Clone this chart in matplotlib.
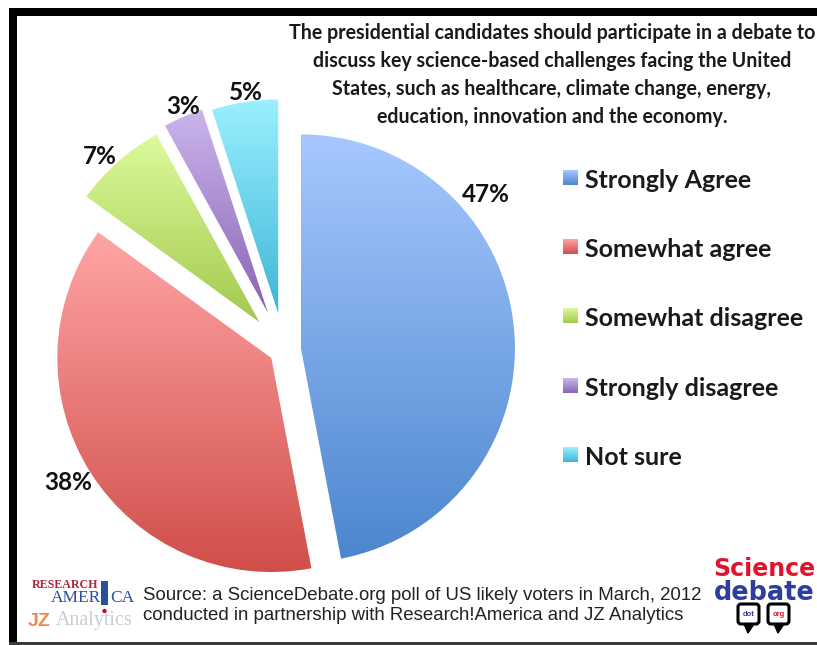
"""Poll pie chart with top-to-bottom gradient slices, legend and source footer."""
import numpy as np
import matplotlib
matplotlib.use("Agg")
import matplotlib.pyplot as plt
from matplotlib.colors import LinearSegmentedColormap
from matplotlib.patches import Circle, FancyBboxPatch, Polygon, Rectangle

W, H = 817, 645

categories = ["Strongly Agree", "Somewhat agree", "Somewhat disagree", "Strongly disagree", "Not sure"]
shares = [47, 38, 7, 3, 5]
pct_labels = ["47%", "38%", "7%", "3%", "5%"]
title_lines = [
    "The presidential candidates should participate in a debate to",
    "discuss key science-based challenges facing the United",
    "States, such as healthcare, climate change, energy,",
    "education, innovation and the economy.",
]
source_lines = [
    "Source: a ScienceDebate.org poll of US likely voters in March, 2012",
    "conducted in partnership with Research!America and JZ Analytics",
]

# slice styling: gradient top and bottom colour, explode distance in pixels
tops = ["#a6c8ff", "#ffa5a5", "#dcfa9c", "#cbb5ec", "#9cf0ff"]
bottoms = ["#4c86ce", "#d04e4a", "#a3c94e", "#8864b3", "#3db6d8"]
explode_px = [17, 15, 37, 40, 37]
label_xy = [(486, 195), (68, 483), (100, 156), (183, 107), (246, 93)]
legend_y = [178, 247, 316, 386, 455]

PIE_CENTER = (284, H - 350)
PIE_RADIUS = 214


def gradient_fill(ax, artist, top, bottom, extent):
    cmap = LinearSegmentedColormap.from_list("fill", [top, bottom])
    im = ax.imshow(np.linspace(0, 1, 256)[:, None], cmap=cmap, extent=extent,
                   origin="upper", aspect="auto", zorder=2, interpolation="bilinear")
    im.set_clip_path(artist)


plt.rcParams["font.family"] = ["Lato", "DejaVu Sans"]
fig = plt.figure(figsize=(W / 100, H / 100), dpi=100)
ax = fig.add_axes([0, 0, 1, 1])

# explode is taken in data units here, and the axes run in pixels
wedges, _ = ax.pie(
    shares,
    explode=explode_px,
    startangle=90,
    counterclock=False,
    center=PIE_CENTER,
    radius=PIE_RADIUS,
)

for wedge, top, bottom in zip(wedges, tops, bottoms):
    wedge.set_facecolor("none")
    wedge.set_edgecolor("none")
    bb = wedge.get_path().get_extents(wedge.get_patch_transform())
    gradient_fill(ax, wedge, top, bottom, (bb.x0, bb.x1, bb.y0, bb.y1))

for text, (x, y) in zip(pct_labels, label_xy):
    ax.text(x, H - y, text, fontsize=17.5, fontweight="bold", ha="center", va="center", color="#111111")

# title block
for i, line in enumerate(title_lines):
    ax.text(552, H - (33 + 28 * i), line, fontsize=14.1, fontweight="bold",
            ha="center", va="center", color="#1a1a1a")

# legend
for name, y, top, bottom in zip(categories, legend_y, tops, bottoms):
    swatch = Rectangle((563, H - y - 7), 15, 15, facecolor="none", edgecolor="none")
    ax.add_patch(swatch)
    gradient_fill(ax, swatch, top, bottom, (563, 578, H - y - 7, H - y + 8))
    ax.text(585, H - y - 10, name, fontsize=18, fontweight="bold", ha="left", va="baseline", color="#1a1a1a")

# source footer
for line, y in zip(source_lines, [595, 615]):
    ax.text(143, H - y, line, family="Liberation Sans", fontsize=13.4,
            ha="left", va="center", color="#222222")

# Research!America and JZ Analytics marks
ax.text(32, H - 585, "RESEARCH", family="Liberation Serif", fontsize=8.6, fontweight="bold",
        color="#a8263f", ha="left", va="center")
ax.text(51, H - 598, "AMER", family="Liberation Serif", fontsize=12.5, color="#2a4f9e", ha="left", va="center")
ax.add_patch(Rectangle((101, H - 605), 7, 24, facecolor="#2a4f9e", edgecolor="none"))
ax.text(110, H - 598, "CA", family="Liberation Serif", fontsize=12.5, color="#2a4f9e", ha="left", va="center")
ax.add_patch(Circle((104.5, H - 611), 2.2, facecolor="#c8102e", edgecolor="none"))
ax.text(28, H - 621, "JZ", family="Liberation Sans", fontsize=14, fontweight="bold",
        color="#f08a4b", ha="left", va="center")
ax.text(56, H - 621, "Analytics", family="Liberation Serif", fontsize=14.4, color="#c9ccd2", ha="left", va="center")

# ScienceDebate mark with two speech bubbles
ax.text(764, H - 569, "Science", family="DejaVu Sans", fontsize=17, fontweight="bold",
        color="#e2132d", ha="center", va="center")
ax.text(764, H - 593, "debate", family="DejaVu Sans", fontsize=18.4, fontweight="bold",
        color="#2f3d9c", ha="center", va="center")
for x0, word, colour in [(736, "dot", "#2f3d9c"), (766, "org", "#e2132d")]:
    ax.add_patch(FancyBboxPatch((x0 + 2, H - 624), 21, 20, boxstyle="round,pad=0,rounding_size=3",
                                facecolor="white", edgecolor="black", lw=2.2, zorder=3))
    ax.add_patch(Polygon([(x0 + 8, H - 624), (x0 + 18, H - 624), (x0 + 12, H - 633)],
                         facecolor="black", edgecolor="black", zorder=3))
    ax.text(x0 + 12.5, H - 614, word, family="Liberation Sans", fontsize=5.5, fontweight="bold",
            color=colour, ha="center", va="center", zorder=4)

# heavy frame on the left and top, thin grey rule along the bottom
ax.add_patch(Rectangle((9, 2), 8, H - 2 - 8, facecolor="black", edgecolor="none", zorder=5))
ax.add_patch(Rectangle((9, H - 16), W - 9, 8, facecolor="black", edgecolor="none", zorder=5))
ax.add_patch(Rectangle((9, 0), W - 9, 3, facecolor="#3c3c3c", edgecolor="none", zorder=5))

ax.set_xlim(0, W)
ax.set_ylim(0, H)
ax.set_aspect("auto")
ax.axis("off")

fig.savefig("out.png", dpi=100)
